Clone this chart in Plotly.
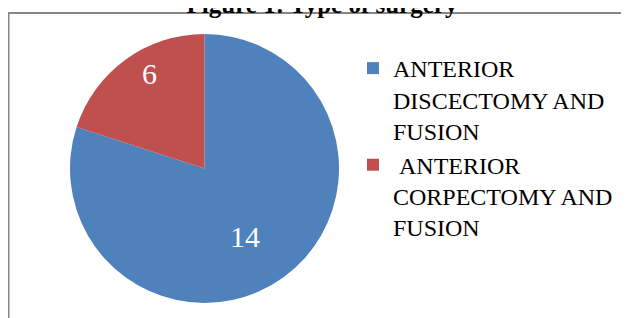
import plotly.graph_objects as go

# Data
categories = ["ANTERIOR<br>DISCECTOMY AND<br>FUSION", "&nbsp;ANTERIOR<br>CORPECTOMY AND<br>FUSION"]
counts = [14, 6]              # numbers printed on the slices
slice_share = [80, 20]        # slice sizes as drawn in the picture (percent)
colors = ["#4F81BD", "#C0504D"]
title_text = "Figure 1: Type of surgery"

W, H = 629, 318
OFF = 8  # default page body margin in the browser

def px(x):
    return (x - OFF) / W

def py(y):
    return 1 - (y - OFF) / H

SERIF = "Times New Roman, Liberation Serif, serif"

fig = go.Figure()
fig.add_trace(go.Pie(
    labels=categories,
    values=slice_share,
    customdata=counts,
    sort=False,
    direction="clockwise",
    rotation=0,
    marker=dict(colors=colors, line=dict(width=0)),
    textinfo="none",
    hovertemplate="%{label}: %{customdata}<extra></extra>",
    domain=dict(x=[px(70), px(339)], y=[py(303), py(34)]),
    showlegend=True,
))

# value labels inside slices
label_pos = [(245, 237), (149, 73)]
annotations = []
for v, (lx, ly) in zip(counts, label_pos):
    annotations.append(dict(
        text=str(v), x=px(lx), y=py(ly), xref="paper", yref="paper",
        xanchor="center", yanchor="middle", showarrow=False,
        font=dict(family=SERIF, size=30, color="white"),
    ))

fig.update_layout(
    width=W, height=H,
    margin=dict(l=0, r=0, t=0, b=0),
    paper_bgcolor="white",
    plot_bgcolor="white",
    title=dict(
        text="<b>" + title_text + "</b>",
        x=px(322), xanchor="center",
        y=1 - 5 / H, yanchor="bottom", yref="container",
        font=dict(family=SERIF, size=25, color="black"),
    ),
    legend=dict(
        x=px(353), xanchor="left",
        y=py(46), yanchor="top",
        valign="top",
        font=dict(family=SERIF, size=24, color="black"),
        bgcolor="rgba(0,0,0,0)",
    ),
    annotations=annotations,
    shapes=[dict(
        type="rect", xref="paper", yref="paper",
        x0=px(8.5), x1=1.2, y0=-0.2, y1=py(13),
        line=dict(color="#868686", width=2),
        fillcolor="rgba(0,0,0,0)", layer="below",
    )],
)

fig.write_html("out.html")
